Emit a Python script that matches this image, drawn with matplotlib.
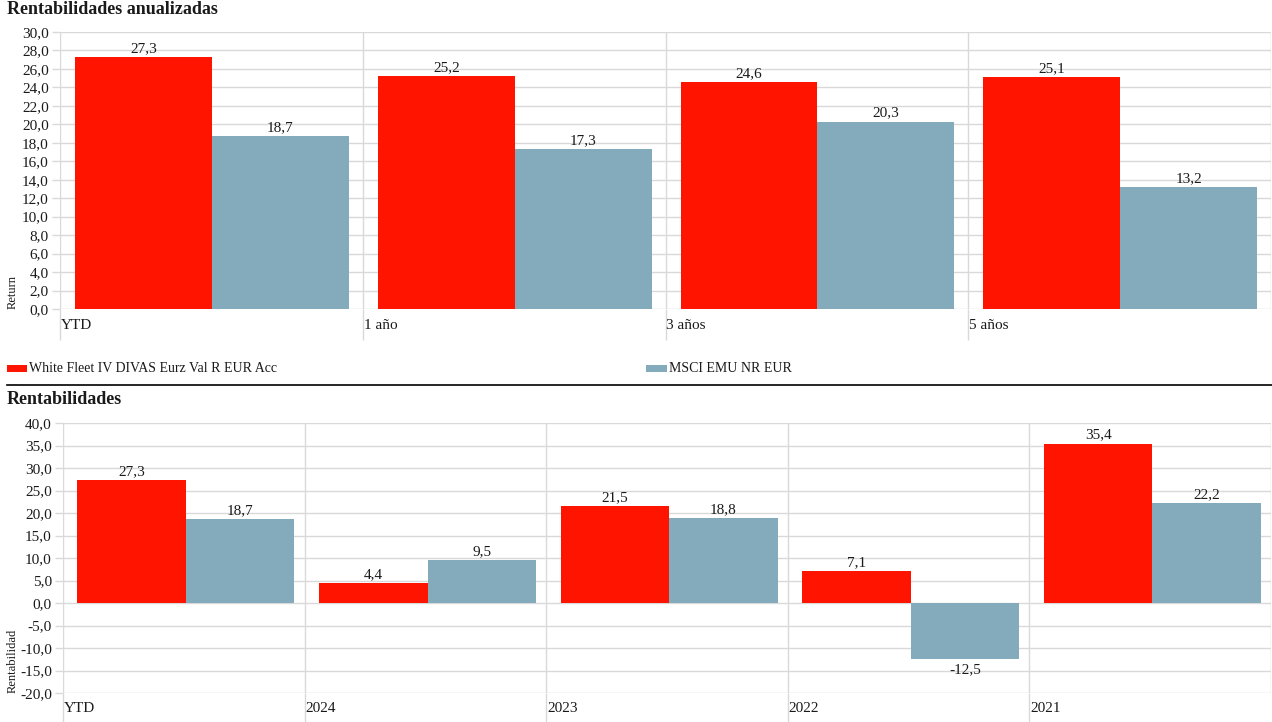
import matplotlib
matplotlib.use("Agg")
import matplotlib.pyplot as plt
from matplotlib.patches import Rectangle
from matplotlib.lines import Line2D
from matplotlib.ticker import FuncFormatter
import numpy as np

plt.rcParams['font.family'] = ['Liberation Serif', 'DejaVu Serif']

fund_name = "White Fleet IV DIVAS Eurz Val R EUR Acc"
bench_name = "MSCI EMU NR EUR"

# annualised returns
ann_cats = ["YTD", "1 año", "3 años", "5 años"]
ann_fund = [27.3, 25.2, 24.6, 25.1]
ann_bench = [18.7, 17.3, 20.3, 13.2]

# calendar returns
cal_cats = ["YTD", "2024", "2023", "2022", "2021"]
cal_fund = [27.3, 4.4, 21.5, 7.1, 35.4]
cal_bench = [18.7, 9.5, 18.8, -12.5, 22.2]

RED = "#ff1400"
BLUE = "#83abbb"
GRID = "#d9d9d9"
TXT = "#1a1a1a"
FS = 11

W, H = 1272, 722
fig = plt.figure(figsize=(W / 100, H / 100), dpi=100)


def px_axes(x0, y0, x1, y1):
    # pixel box (top-left origin) -> figure axes
    return fig.add_axes([x0 / W, 1 - y1 / H, (x1 - x0) / W, (y1 - y0) / H])


def comma(v, pos=None):
    return f"{v:.1f}".replace(".", ",")


def draw_bars(ax, cats, fund, bench, ymin, ymax, ystep, tick_len, off, bw, ylabel, ylab_x):
    n = len(cats)
    x = np.arange(n)
    ax.bar(x + off, fund, width=bw, align='edge', color=RED, zorder=3)
    ax.bar(x + off + bw, bench, width=bw, align='edge', color=BLUE, zorder=3)
    ax.set_xlim(0, n)
    ax.set_ylim(ymin, ymax)
    ax.set_yticks(np.arange(ymin, ymax + ystep / 2, ystep))
    ax.yaxis.set_major_formatter(FuncFormatter(comma))
    ax.set_xticks(x)
    ax.set_xticklabels([])
    ax.tick_params(axis='x', length=tick_len, color=GRID, width=1)
    ax.tick_params(axis='y', length=6, color=GRID, width=1, labelsize=FS, labelcolor=TXT, pad=2)
    for s in ax.spines.values():
        s.set_visible(False)
    ax.grid(True, color=GRID, linewidth=1, zorder=0)
    ax.axvline(n, color=GRID, linewidth=1, zorder=0)
    for i, c in enumerate(cats):
        ax.text(i + 0.003, -0.058, c, transform=ax.get_xaxis_transform(), ha='left', va='center',
                fontsize=FS, color=TXT)
    for i in range(n):
        for xx, v in ((x[i] + off + bw / 2, fund[i]), (x[i] + off + 1.5 * bw, bench[i])):
            if v >= 0:
                ax.annotate(comma(v), (xx, v), xytext=(0, 1.5), textcoords='offset points',
                            ha='center', va='bottom', fontsize=FS, color=TXT)
            else:
                ax.annotate(comma(v), (xx, v), xytext=(0, -3), textcoords='offset points',
                            ha='center', va='top', fontsize=FS, color=TXT)
    ax.set_ylabel(ylabel, loc='bottom', fontsize=9, color=TXT)
    ax.yaxis.set_label_coords(ylab_x, 0)


ax1 = px_axes(60, 32, 1271, 309)
draw_bars(ax1, ann_cats, ann_fund, ann_bench, 0, 30, 2, 22.5, 0.05, 0.452, "Return", -0.0345)

ax2 = px_axes(63, 423, 1271, 693)
draw_bars(ax2, cal_cats, cal_fund, cal_bench, -20, 40, 5, 21, 0.06, 0.449, "Rentabilidad", -0.037)

# titles
fig.text(7 / W, 1 - 9 / H, "Rentabilidades anualizadas", fontsize=13, fontweight='bold',
         color=TXT, ha='left', va='center')
fig.text(7 / W, 1 - 400 / H, "Rentabilidades", fontsize=13, fontweight='bold',
         color=TXT, ha='left', va='center')

# legend
fig.add_artist(Rectangle((7 / W, 1 - 372 / H), 20 / W, 7 / H, transform=fig.transFigure,
                         color=RED, linewidth=0))
fig.text(29 / W, 1 - 368 / H, fund_name, fontsize=10, color=TXT, ha='left', va='center')
fig.add_artist(Rectangle((646 / W, 1 - 372 / H), 21 / W, 7 / H, transform=fig.transFigure,
                         color=BLUE, linewidth=0))
fig.text(669 / W, 1 - 368 / H, bench_name, fontsize=10, color=TXT, ha='left', va='center')

# separator
fig.add_artist(Line2D([7 / W, 1], [1 - 385 / H, 1 - 385 / H], transform=fig.transFigure,
                      color='black', linewidth=1.2))

fig.savefig("out.png", dpi=100)
